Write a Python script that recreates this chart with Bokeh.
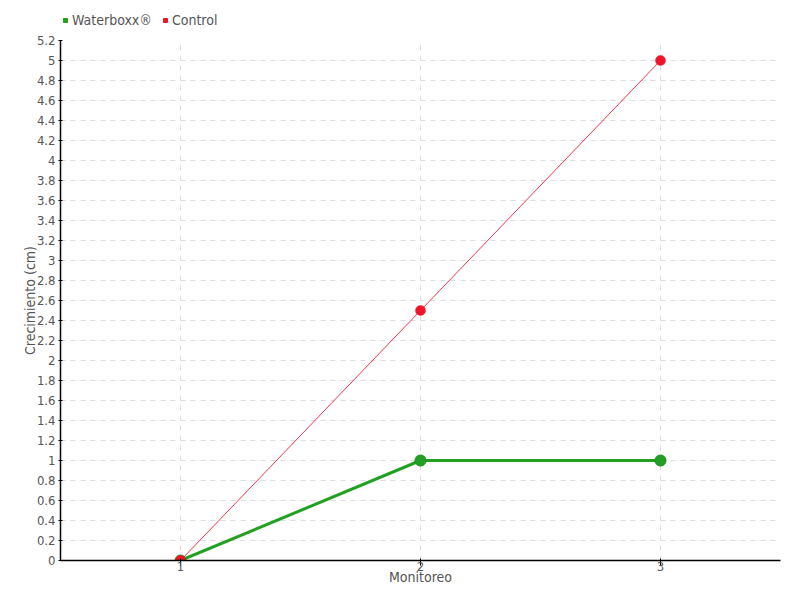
from bokeh.plotting import figure
from bokeh.layouts import column
from bokeh.models import FixedTicker, Range1d, Legend, LegendItem, CustomJSTickFormatter
from bokeh.embed import file_html
from bokeh.resources import INLINE

monitoreo = [1, 2, 3]
waterboxx = [0, 1, 1]
control = [0, 2.5, 5]
y_ticks = [round(i * 0.2, 1) for i in range(27)]
series_names = ["Waterboxx®", "Control"]

FONT = "DejaVu Sans Condensed"
TXT = "#555555"
GREEN = "#22a022"
GREEN_D = "#1a8a1a"
RED = "#f0142a"

# legend strip
lf = figure(width=800, height=30, output_backend="svg", toolbar_location=None,
            x_range=Range1d(0, 1), y_range=Range1d(0, 1),
            x_axis_location=None, y_axis_location=None,
            min_border_left=0, min_border_right=0, min_border_top=0, min_border_bottom=0)
lf.grid.visible = False
lf.outline_line_color = None
lg_w = lf.scatter([-10], [-10], marker="square", size=9, fill_color=GREEN, line_color=GREEN)
lg_c = lf.scatter([-10], [-10], marker="square", size=9, fill_color=RED, line_color=RED)
legend = Legend(items=[LegendItem(label=series_names[0], renderers=[lg_w]),
                       LegendItem(label=series_names[1], renderers=[lg_c])],
                orientation="horizontal", location=(0, 2),
                label_text_font=FONT, label_text_font_size="14px", label_text_color=TXT,
                glyph_width=10, glyph_height=10, label_standoff=2, spacing=8,
                padding=0, margin=0, border_line_color=None, background_fill_alpha=0,
                label_height=14)
lf.add_layout(legend, "center")

p = figure(width=800, height=570, output_backend="svg", toolbar_location=None,
           x_range=Range1d(0.5, 3.5), y_range=Range1d(0, 5.2),
           min_border_left=60, min_border_right=20, min_border_top=10, min_border_bottom=40)
p.outline_line_color = None
p.background_fill_color = "white"

p.xaxis.ticker = FixedTicker(ticks=monitoreo)
p.yaxis.ticker = FixedTicker(ticks=y_ticks)
p.yaxis.formatter = CustomJSTickFormatter(code="return String(Math.round(tick*10)/10);")
for ax in (p.xaxis, p.yaxis):
    ax.axis_line_color = "black"
    ax.axis_line_width = 1.5
    ax.major_tick_line_color = "black"
    ax.minor_tick_line_color = None
    ax.major_label_text_font = FONT
    ax.major_label_text_font_size = "13px"
    ax.major_label_text_color = TXT
    ax.axis_label_text_font = FONT
    ax.axis_label_text_font_size = "14px"
    ax.axis_label_text_color = TXT
    ax.axis_label_text_font_style = "normal"
p.xaxis.major_tick_out = 5
p.xaxis.major_tick_in = 2
p.yaxis.major_tick_out = 2
p.yaxis.major_tick_in = 2
p.xaxis.major_label_standoff = -4
p.yaxis.major_label_standoff = 3
p.xaxis.axis_label = "Monitoreo"
p.yaxis.axis_label = "Crecimiento (cm)"
p.xaxis.axis_label_standoff = -5
p.yaxis.axis_label_standoff = -4

p.xgrid.ticker = FixedTicker(ticks=monitoreo)
p.ygrid.ticker = FixedTicker(ticks=y_ticks)
for g in (p.xgrid, p.ygrid):
    g.grid_line_color = "#dddddd"
    g.grid_line_dash = "5 5"
    g.grid_line_width = 1

p.line(monitoreo, waterboxx, line_color=GREEN, line_width=3)
p.scatter(monitoreo, waterboxx, size=11, fill_color=GREEN, line_color=GREEN_D, line_width=1)
p.line(monitoreo, control, line_color=RED, line_width=1, line_alpha=0.85)
p.scatter(monitoreo, control, size=10, fill_color=RED, line_color=RED, line_width=0.5)

layout = column(lf, p, spacing=0)
open("out.html", "w").write(file_html(layout, INLINE))
